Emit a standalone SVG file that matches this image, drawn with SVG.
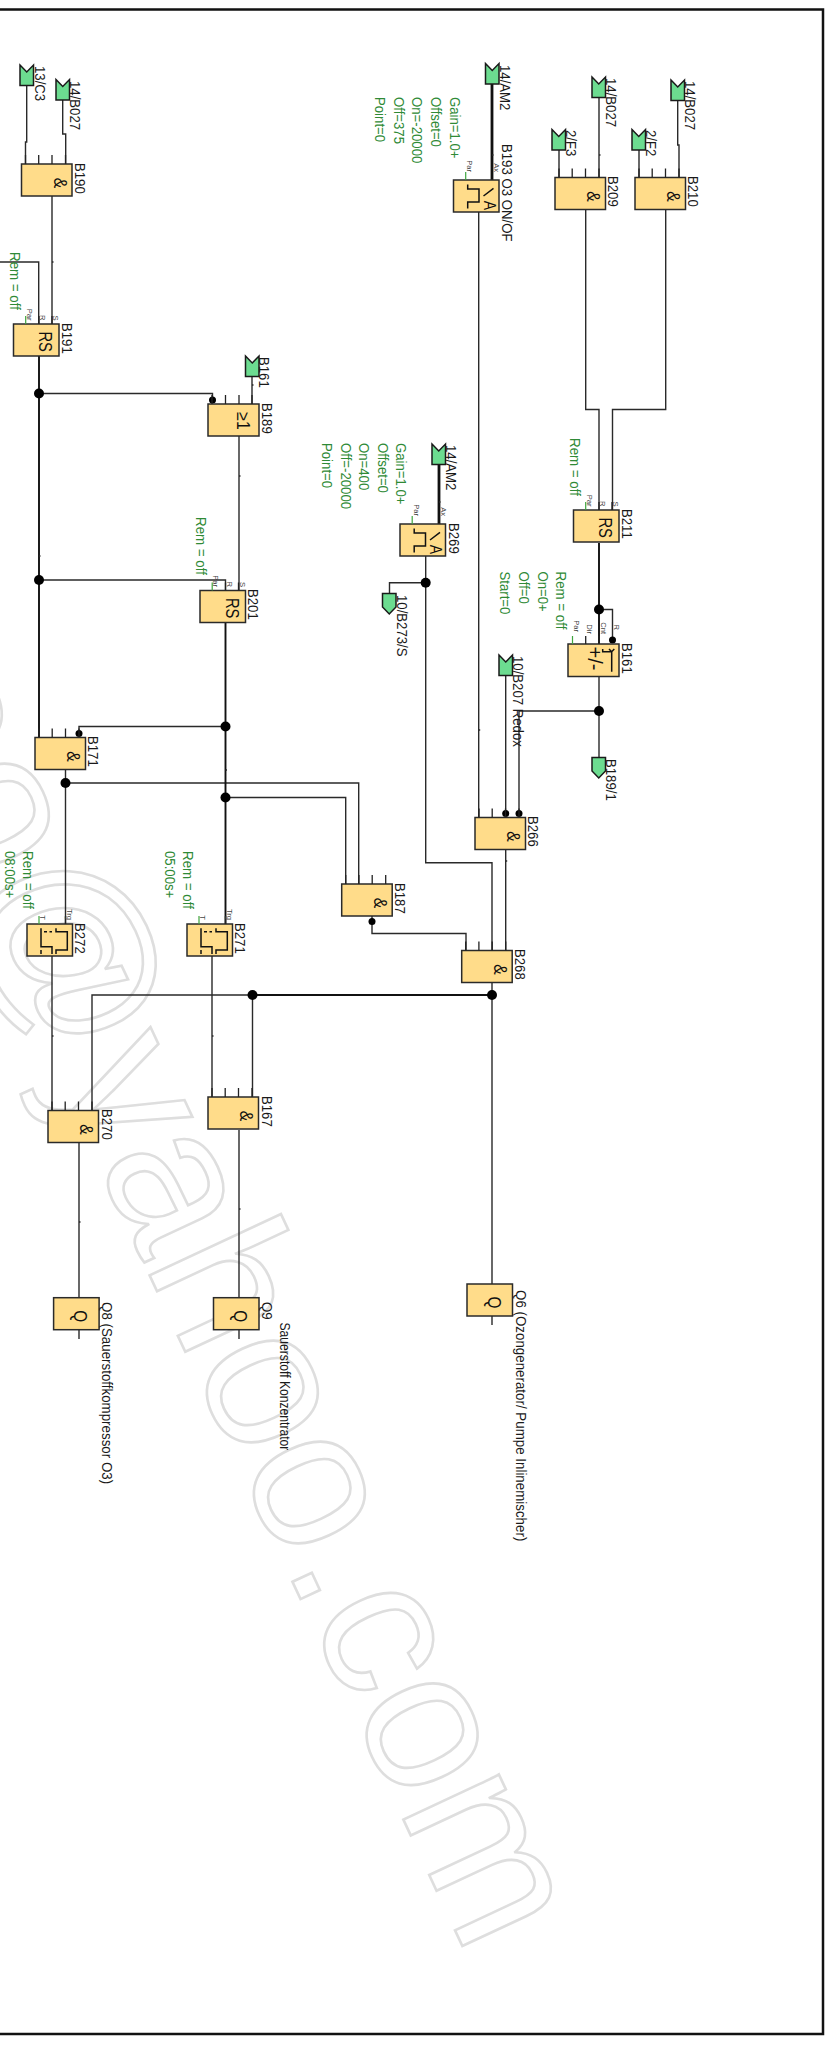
<svg xmlns="http://www.w3.org/2000/svg" width="826" height="2045" viewBox="0 0 826 2045">
<style>
text{font-family:"Liberation Sans",Arial,sans-serif}
.box{fill:#ffdc8a;stroke:#2a2a2a;stroke-width:1.5}
.fl{fill:#6cdc90;stroke:#1a1a1a;stroke-width:1.5}
.w{fill:none;stroke:#2a2a2a;stroke-width:1.4}
.b{fill:none;stroke:#111;stroke-width:1.9}
.t{fill:none;stroke:#222;stroke-width:1.3}
.g{fill:none;stroke:#3fa53f;stroke-width:1.2}
.sym{fill:none;stroke:#111;stroke-width:1.5}
.l{font-size:15px;fill:#1a1a1a}
.p{font-size:15px;fill:#2f8a36}
.s{font-size:7.6px;fill:#444;text-anchor:end}
.big{font-size:18px;fill:#111;text-anchor:middle}
.wm{font-size:200px;fill:none;stroke:#dedede;stroke-width:2.6;text-anchor:end}
.j{fill:#000}
</style>
<defs>
<g id="and"><rect class="box" width="50.5" height="32"/><path class="t" d="M4 0V-9M17.2 0V-9M30.5 0V-9M44 0V-9"/><text class="big" transform="translate(32 19) rotate(90) scale(.88 1)">&amp;</text></g>
<g id="rs"><rect class="box" width="45.5" height="32"/><path class="t" d="M25.5 0V-8M38.5 0V-8"/><path class="g" d="M12.2 0V-8"/><text class="big" transform="translate(25.5 17.7) rotate(90) scale(.82 1)">RS</text><text class="s" transform="translate(13.3 -3.5) rotate(90)">Par</text><text class="s" transform="translate(26.5 -3.5) rotate(90)">R</text><text class="s" transform="translate(39.8 -3.5) rotate(90)">S</text></g>
<g id="thr"><rect class="box" width="45.5" height="32"/><path class="g" d="M12.2 0V-8"/><path class="sym" d="M14.2 4.5V9H25.5V22H14.2V28.5M30 16L40 8.3"/><text class="big" style="font-size:16px" transform="translate(30 25.5) rotate(90) scale(.88 1)">A</text><text class="s" transform="translate(13.5 -8) rotate(90)">Par</text><text class="s" transform="translate(40.5 -8) rotate(90)">Ax</text></g>
<g id="tim"><rect class="box" width="45.5" height="32"/><path class="g" d="M12 0V-8"/><path class="t" d="M38.5 0V-8"/><path class="sym" d="M14 4.3V22.7H25V30M14 26V30M29 4.3V7.7H40.3V26H29V30"/><path class="sym" stroke-dasharray="3 2.5" d="M17 7.7H25"/><text class="s" transform="translate(13.2 -4) rotate(90)">T</text><text class="s" transform="translate(39.8 -4) rotate(90)">Trg</text></g>
<g id="q"><rect class="box" width="45.5" height="32"/><text class="big" transform="translate(20.5 18.5) rotate(90) scale(.85 1)">Q</text></g>
<polygon id="fin" class="fl" points="0,0 6.75,7 13.5,0 13.5,20.5 0,20.5"/>
<polygon id="fout" class="fl" points="0,0 13.5,0 13.5,13.5 6.75,20.5 0,13.5"/>
</defs>
<text id="watermark" class="wm" transform="translate(468 1958) rotate(65)">oo@yahoo.com</text>
<path id="frame" fill="none" stroke="#111" stroke-width="2.5" d="M0 9.5H823V2034H0"/>
<g id="connectors">
<path class="w" d="M26.7 85V142H25.5V164M62.7 100V134H65.7V164M52 196V324M38.7 324V262H0M252 376V404M239 436V590M225.5 590V580H39M212.5 400V393.5H39M65.5 769.5V924M65.5 783H358.7V884M225.5 797.5H345.7V884M225.5 726.5H79V733M372 916V933.5H466V950.5M478.7 212V817.5M559 149.5V177.5M599 97V177.5M639 149.5V177.5M677.7 100V145H679V177.5M585.7 209.5V409.5H599V510M665.7 209.5V409.5H612.5V510M599 609.5H612.5V640M599 711H519V813M505.7 675.5V813M505.7 849.5V950.5M425.7 556V862.7H492V950.5M425.7 582.7H389.5V593.5M52 956V1110.5M92 1110.5V995H252.5M212 956V1097M252.5 995V1097M79 1143V1339M239 1130V1339M492 1284V1325M492 982.5V1284M599 711V757.5M599 676V711"/>
<path class="b" d="M39 356V737.5M225.5 622.5V924M252.5 995H492M599 543V644"/>
<path fill="none" stroke="#111" stroke-width="2.8" d="M492 84V180M439 464.5V524"/>
<path class="w" d="M52 262h1.5M252 385h1.5M492 155h1.5M599 155h1.5M439 502h1.5M478.7 730h1.5M239 476h1.5M39 556h1.5M225.5 770h1.5M52 1036h1.5M212 1036h1.5M505.7 861h1.5M79 1222h1.5M239 1209h1.5"/>
<g class="j"><circle cx="39" cy="393.5" r="5"/><circle cx="39" cy="580" r="5"/><circle cx="225.5" cy="726.5" r="5"/><circle cx="225.5" cy="797.5" r="5"/><circle cx="65.5" cy="783" r="5"/><circle cx="252.5" cy="995" r="5"/><circle cx="492" cy="995" r="5"/><circle cx="425.7" cy="582.7" r="5"/><circle cx="599" cy="609.5" r="5"/><circle cx="599" cy="711" r="5"/><circle cx="212.5" cy="400" r="3.5"/><circle cx="79" cy="733.5" r="3.5"/><circle cx="372" cy="921.5" r="3.5"/><circle cx="505.7" cy="813.5" r="3.5"/><circle cx="519" cy="813.5" r="3.5"/><circle cx="612.5" cy="640" r="3.5"/></g>
</g>
<g id="F-13-C3"><use href="#fin" x="20" y="65"/><text class="l" transform="translate(34.5 66) rotate(90) scale(.88 1)">13/C3</text></g>
<g id="F-14-B027-a"><use href="#fin" x="56" y="79.5"/><text class="l" transform="translate(70 81) rotate(90) scale(.88 1)">14/B027</text></g>
<g id="F-B161"><use href="#fin" x="245.5" y="356"/><text class="l" transform="translate(258.5 357) rotate(90) scale(.88 1)">B161</text></g>
<g id="F-14-AM2-a"><use href="#fin" x="485.5" y="63.5"/><text class="l" transform="translate(500 65) rotate(90) scale(.88 1)">14/AM2</text></g>
<g id="F-14-AM2-b"><use href="#fin" x="432" y="444"/><text class="l" transform="translate(446 445) rotate(90) scale(.88 1)">14/AM2</text></g>
<g id="F-2-F3"><use href="#fin" x="552" y="129.5"/><text class="l" transform="translate(566 130) rotate(90) scale(.88 1)">2/F3</text></g>
<g id="F-14-B027-b"><use href="#fin" x="592" y="77"/><text class="l" transform="translate(606 78) rotate(90) scale(.88 1)">14/B027</text></g>
<g id="F-2-F2"><use href="#fin" x="632" y="129.5"/><text class="l" transform="translate(646 130) rotate(90) scale(.88 1)">2/F2</text></g>
<g id="F-14-B027-c"><use href="#fin" x="671" y="80"/><text class="l" transform="translate(685 81) rotate(90) scale(.88 1)">14/B027</text></g>
<g id="F-10-B207"><use href="#fin" x="499" y="655"/><text class="l" transform="translate(513 656) rotate(90) scale(.88 1)">10/B207 Redox</text></g>
<g id="F-10-B273"><use href="#fout" x="382.5" y="593.5"/><text class="l" transform="translate(397 595) rotate(90) scale(.88 1)">10/B273/S</text></g>
<g id="F-B189-1"><use href="#fout" x="592" y="757.5"/><text class="l" transform="translate(606 759) rotate(90) scale(.88 1)">B189/1</text></g>
<g id="B190"><use href="#and" x="21.5" y="164"/><text class="l" transform="translate(75 163) rotate(90) scale(.88 1)">B190</text></g>
<g id="B191"><use href="#rs" x="13.5" y="324"/><text class="l" transform="translate(62 323) rotate(90) scale(.88 1)">B191</text><text class="p" transform="translate(10 252) rotate(90) scale(.89 1)">Rem = off</text></g>
<g id="B189"><rect class="box" x="208" y="404" width="51" height="32"/><path class="t" d="M212 404V395M225.5 404V395M239 404V395M252 404V395"/><text class="big" transform="translate(237 421) rotate(90) scale(.88 1)">≥1</text><text class="l" transform="translate(262 403) rotate(90) scale(.88 1)">B189</text></g>
<g id="B201"><use href="#rs" x="200" y="590.5"/><text class="l" transform="translate(248 589) rotate(90) scale(.88 1)">B201</text><text class="p" transform="translate(196 517) rotate(90) scale(.89 1)">Rem = off</text></g>
<g id="B171"><use href="#and" x="35" y="737.5"/><text class="l" transform="translate(88 736) rotate(90) scale(.88 1)">B171</text></g>
<g id="B187"><use href="#and" x="341.7" y="884"/><text class="l" transform="translate(395 883) rotate(90) scale(.88 1)">B187</text></g>
<g id="B268"><use href="#and" x="461.7" y="950.5"/><text class="l" transform="translate(515 949) rotate(90) scale(.88 1)">B268</text></g>
<g id="B266"><use href="#and" x="475" y="817.5"/><text class="l" transform="translate(528 816) rotate(90) scale(.88 1)">B266</text></g>
<g id="B209"><use href="#and" x="555" y="177.5"/><text class="l" transform="translate(608 176) rotate(90) scale(.88 1)">B209</text></g>
<g id="B210"><use href="#and" x="635" y="177.5"/><text class="l" transform="translate(688 176) rotate(90) scale(.88 1)">B210</text></g>
<g id="B270"><use href="#and" x="48" y="1110.5"/><text class="l" transform="translate(101.5 1109) rotate(90) scale(.88 1)">B270</text></g>
<g id="B167"><use href="#and" x="208" y="1097"/><text class="l" transform="translate(262 1096) rotate(90) scale(.88 1)">B167</text></g>
<g id="B193"><use href="#thr" x="453.5" y="180"/><text class="l" transform="translate(502 144) rotate(90) scale(.88 1)">B193 O3 ON/OF</text>
<text class="p" transform="translate(450 97) rotate(90) scale(.88 1)">Gain=1.0+</text><text class="p" transform="translate(431 97) rotate(90) scale(.88 1)">Offset=0</text><text class="p" transform="translate(412.3 97) rotate(90) scale(.88 1)">On=-20000</text><text class="p" transform="translate(394 97) rotate(90) scale(.88 1)">Off=375</text><text class="p" transform="translate(375.3 97) rotate(90) scale(.88 1)">Point=0</text></g>
<g id="B269"><use href="#thr" x="400" y="524"/><text class="l" transform="translate(449 523) rotate(90) scale(.88 1)">B269</text>
<text class="p" transform="translate(396 443) rotate(90) scale(.88 1)">Gain=1.0+</text><text class="p" transform="translate(378 443) rotate(90) scale(.88 1)">Offset=0</text><text class="p" transform="translate(359 443) rotate(90) scale(.88 1)">On=400</text><text class="p" transform="translate(340.5 443) rotate(90) scale(.88 1)">Off=-20000</text><text class="p" transform="translate(322 443) rotate(90) scale(.88 1)">Point=0</text></g>
<g id="B211"><use href="#rs" x="573.5" y="510"/><text class="l" transform="translate(622 509) rotate(90) scale(.88 1)">B211</text><text class="p" transform="translate(570 438) rotate(90) scale(.89 1)">Rem = off</text></g>
<g id="B161"><rect class="box" x="568" y="644" width="51" height="32.5"/><path class="g" d="M572.5 644V636"/><path class="t" d="M585.7 644V636M599 644V636"/><path class="sym" d="M602.7 649V651.7H611.7V671.7M609 649L611.7 651.7L614.3 649"/><text style="font-size:20px;fill:#111" transform="translate(587.5 646.5) rotate(90)">+/-</text><text class="s" transform="translate(574 632) rotate(90)">Par</text><text class="s" transform="translate(587 634) rotate(90)">Dir</text><text class="s" transform="translate(600.5 634) rotate(90)">Cnt</text><text class="s" transform="translate(614 630) rotate(90)">R</text><text class="l" transform="translate(622 643) rotate(90) scale(.88 1)">B161</text>
<text class="p" transform="translate(556 571.5) rotate(90) scale(.89 1)">Rem = off</text><text class="p" transform="translate(538 571.5) rotate(90) scale(.88 1)">On=0+</text><text class="p" transform="translate(519 571.5) rotate(90) scale(.88 1)">Off=0</text><text class="p" transform="translate(500 571.5) rotate(90) scale(.88 1)">Start=0</text></g>
<g id="B272"><use href="#tim" x="27" y="924"/><text class="l" transform="translate(75 923) rotate(90) scale(.88 1)">B272</text><text class="p" transform="translate(23 851) rotate(90) scale(.89 1)">Rem = off</text><text class="p" transform="translate(4.5 851) rotate(90) scale(.88 1)">08:00s+</text></g>
<g id="B271"><use href="#tim" x="187" y="924"/><text class="l" transform="translate(235 923) rotate(90) scale(.88 1)">B271</text><text class="p" transform="translate(183 851) rotate(90) scale(.89 1)">Rem = off</text><text class="p" transform="translate(164.5 851) rotate(90) scale(.88 1)">05:00s+</text></g>
<g id="Q8"><use href="#q" x="53.6" y="1297.7"/><text class="l" transform="translate(102 1302) rotate(90) scale(.89 1)">Q8 (Sauerstoffkompressor O3)</text></g>
<g id="Q9"><use href="#q" x="213.5" y="1297.7"/><text class="l" transform="translate(262 1302) rotate(90) scale(.88 1)">Q9</text><text class="l" transform="translate(280 1322.5) rotate(90) scale(.81 1)">Sauerstoff Konzentrator</text></g>
<g id="Q6"><use href="#q" x="467" y="1284"/><text class="l" transform="translate(516 1290) rotate(90) scale(.89 1)">Q6 (Ozongenerator/ Pumpe Inlinemischer)</text></g>
</svg>
